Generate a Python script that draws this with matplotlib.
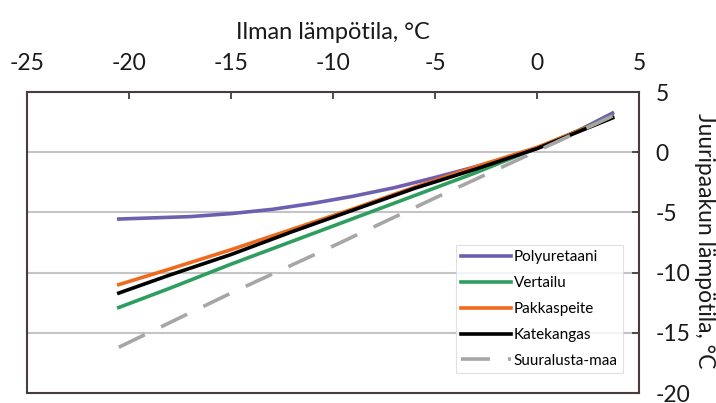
import matplotlib.pyplot as plt

plt.rcParams['font.family'] = ['Lato', 'DejaVu Sans']
plt.rcParams['axes.unicode_minus'] = False

# Data
x_poly = [-20.5, -17, -15, -13, -11, -9, -7, -5, -3, -1, 1, 3.7]
polyuretaani = [-5.55, -5.35, -5.1, -4.75, -4.25, -3.65, -2.95, -2.1, -1.2, -0.25, 0.9, 3.25]
x_pts = [-20.5, -18, -15, -12, -9, -6, -3, 0, 3.7]
vertailu = [-12.9, -11.3, -9.3, -7.4, -5.5, -3.6, -1.7, 0.35, 3.0]
pakkaspeite = [-11.0, -9.7, -8.1, -6.4, -4.7, -2.9, -1.2, 0.4, 2.9]
katekangas = [-11.7, -10.2, -8.5, -6.6, -4.8, -3.0, -1.4, 0.3, 2.85]
x_maa = [-20.5, -15, -10, -5, 0, 3.7]
suuralusta_maa = [-16.2, -11.7, -7.8, -3.8, 0.1, 3.0]

fig = plt.figure(figsize=(7.16, 4.03), dpi=100)
ax = fig.add_axes([0.0377, 0.0248, 0.8548, 0.7469])

lw = 2.6
ax.plot(x_poly, polyuretaani, color='#6f5fb0', lw=lw, label='Polyuretaani')
ax.plot(x_pts, vertailu, color='#2e9e5e', lw=lw, label='Vertailu')
ax.plot(x_pts, pakkaspeite, color='#f06a1e', lw=lw, label='Pakkaspeite')
ax.plot(x_pts, katekangas, color='black', lw=lw, label='Katekangas')
ax.plot(x_maa, suuralusta_maa, color='#a6a6a6', lw=lw, dashes=(8, 5),
        label='Suuralusta-maa')

ax.set_xlim(-25, 5)
ax.set_ylim(-20, 5)
ax.set_xticks(range(-25, 6, 5))
ax.set_yticks(range(-20, 6, 5))

# gridlines only at the inner ticks
for yv in [0, -5, -10, -15]:
    ax.axhline(yv, color='#c4c4c4', lw=1.5, zorder=0)

ax.xaxis.tick_top()
ax.xaxis.set_label_position('top')
ax.yaxis.tick_right()
ax.tick_params(direction='in', length=5, width=1.3, color='#4a3c3c',
               labelsize=16.5, labelcolor='#1a1a1a', pad=13)
ax.tick_params(axis='y', pad=12)
for s in ax.spines.values():
    s.set_color('#4a3c3c')
    s.set_linewidth(1.5)

ax.set_xlabel('Ilman lämpötila, °C', fontsize=17, color='#1a1a1a', labelpad=10)
fig.text(705 / 716, 0.404, 'Juuripaakun lämpötila, °C', fontsize=16.5,
         color='#1a1a1a', rotation=-90, ha='center', va='center')

leg = ax.legend(loc='lower right', bbox_to_anchor=(0.974, 0.066),
                fontsize=11, frameon=True, fancybox=False, handlelength=3.3,
                handletextpad=0.15, labelspacing=0.78, borderpad=0.35,
                borderaxespad=0)
leg.get_frame().set_edgecolor('#d9d9d9')
leg.get_frame().set_linewidth(0.8)

fig.savefig('out.png', dpi=100)
